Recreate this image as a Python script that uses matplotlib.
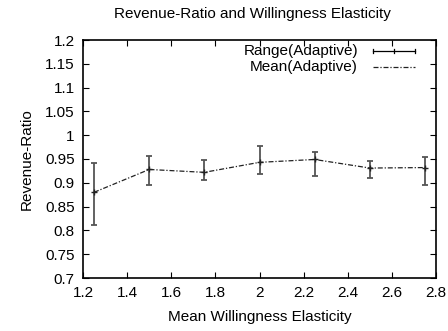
import matplotlib
matplotlib.use("Agg")
import matplotlib.pyplot as plt
from matplotlib.lines import Line2D

plt.rcParams['font.family'] = ['Liberation Sans', 'DejaVu Sans']

elasticity = [1.25, 1.5, 1.75, 2.0, 2.25, 2.5, 2.75]
mean_ratio = [0.880, 0.928, 0.922, 0.943, 0.949, 0.931, 0.932]
range_low = [0.811, 0.896, 0.906, 0.918, 0.915, 0.911, 0.895]
range_high = [0.942, 0.956, 0.948, 0.978, 0.965, 0.946, 0.955]

x_ticks = [1.2, 1.4, 1.6, 1.8, 2.0, 2.2, 2.4, 2.6, 2.8]
x_tick_labels = ["1.2", "1.4", "1.6", "1.8", "2", "2.2", "2.4", "2.6", "2.8"]
y_ticks = [0.7, 0.75, 0.8, 0.85, 0.9, 0.95, 1.0, 1.05, 1.1, 1.15, 1.2]
y_tick_labels = ["0.7", "0.75", "0.8", "0.85", "0.9", "0.95", "1", "1.05", "1.1", "1.15", "1.2"]

FS = 11
W, H = 448, 331
fig = plt.figure(figsize=(W/100, H/100), dpi=100)
ax = fig.add_axes([83/W, 1-278/H, (436-83)/W, (278-40)/H])

lo_err = [m - l for m, l in zip(mean_ratio, range_low)]
hi_err = [h - m for m, h in zip(mean_ratio, range_high)]
ax.errorbar(elasticity, mean_ratio, yerr=[lo_err, hi_err], fmt='none',
            ecolor='#555555', elinewidth=1.3, capsize=2.5, capthick=1.3)
ax.plot(elasticity, mean_ratio, color='#222222', lw=0.9, ls=(0, (4, 1.5, 1, 1.5)),
        marker='+', ms=4, mew=1.0)

ax.set_xlim(1.2, 2.8)
ax.set_ylim(0.7, 1.2)
ax.set_xticks(x_ticks)
ax.set_xticklabels(x_tick_labels)
ax.set_yticks(y_ticks)
ax.set_yticklabels(y_tick_labels)
ax.tick_params(direction='in', top=True, right=True, length=4, width=0.8,
               labelsize=FS, colors='black', pad=6)
for s in ax.spines.values():
    s.set_linewidth(1.2)

ax.set_xlabel("Mean Willingness Elasticity", fontsize=FS, labelpad=7)
ax.set_ylabel("Revenue-Ratio", fontsize=FS, labelpad=8)
fig.text(252/W, 1-14/H, "Revenue-Ratio and Willingness Elasticity",
         ha='center', va='center', fontsize=FS)

# legend (manual, gnuplot style)
def fx(px):
    return (px - 83) / (436 - 83)
def fy(py):
    return (278 - py) / (278 - 40)

ax.text(fx(358), fy(51), "Range(Adaptive)", ha='right', va='center',
        fontsize=FS, transform=ax.transAxes)
ax.text(fx(358), fy(67), "Mean(Adaptive)", ha='right', va='center',
        fontsize=FS, transform=ax.transAxes)
tr = ax.transAxes
ax.add_line(Line2D([fx(373), fx(415)], [fy(51), fy(51)], color='black', lw=0.9, transform=tr))
for px in (373, 394, 415):
    ax.add_line(Line2D([fx(px), fx(px)], [fy(49), fy(53)], color='black', lw=0.9, transform=tr))
ax.add_line(Line2D([fx(373), fx(415)], [fy(67), fy(67)], color='#222222', lw=0.9,
                   ls=(0, (4, 1.5, 1, 1.5)), transform=tr))

fig.savefig("out.png", dpi=100)
